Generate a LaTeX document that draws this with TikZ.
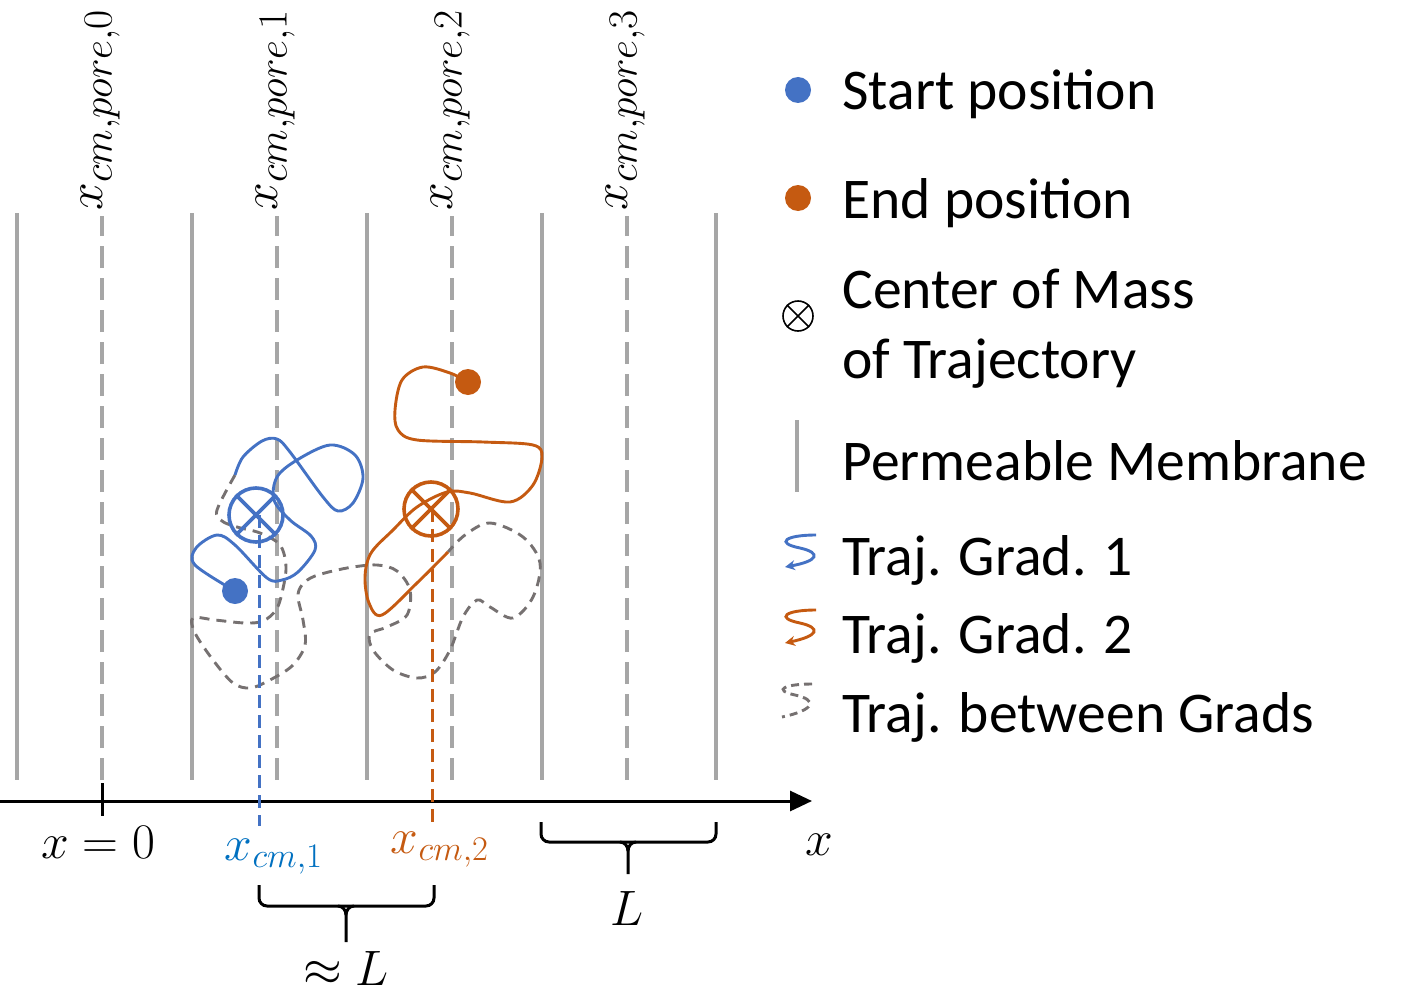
\documentclass[tikz,border=0pt]{standalone}
\usepackage[no-math]{fontspec}
\setmainfont{Carlito}
\usetikzlibrary{arrows.meta}
\definecolor{tblue}{HTML}{4472C4}
\definecolor{torange}{HTML}{C55A11}
\definecolor{lblue}{HTML}{0070C0}
\definecolor{memgray}{HTML}{A6A6A6}
\definecolor{trgray}{HTML}{767171}
\tikzset{
  membrane/.style={memgray, line width=2.2pt},
  poreline/.style={memgray, line width=1.8pt, dash pattern=on 11pt off 5pt},
  btraj/.style={tblue, line width=1.45pt},
  otraj/.style={torange, line width=1.45pt},
  gtraj/.style={trgray, line width=1.45pt, dash pattern=on 5pt off 3.5pt},
  legtext/.style={anchor=base west, inner sep=0pt, font=\fontsize{28.8}{34}\selectfont},
  mathlab/.style={anchor=base, inner sep=0pt, font=\fontsize{26}{30}\selectfont},
  toplab/.style={rotate=90, anchor=base west, inner sep=0pt, font=\fontsize{31}{34}\selectfont},
  brk/.style={black, line width=1.5pt},
}
\begin{document}
\begin{tikzpicture}[x=0.5pt, y=-0.5pt]
\useasboundingbox (0,0) rectangle (1407,1006);

% membranes
\foreach \xx in {17,192,367,542,716}{
  \draw[membrane] (\xx,213) -- (\xx,780);
}
% pore centre lines
\foreach \xx/\i in {102/0,277/1,452/2,627/3}{
  \draw[poreline] (\xx,780) -- (\xx,216);
  \node[toplab] (pl\i) at (\xx,211) {$x_{cm,pore,\i}$};
}

% axis
\coordinate (axs) at (0,801);
\coordinate (axe) at (812,801);
\draw[line width=1.5pt, -{Triangle[length=11pt,width=10pt]}] (axs) -- (axe);
\draw[line width=1.5pt] (102,783) -- (102,816);

% trajectory between grads (dashed gray)
\draw[gtraj] plot[smooth, tension=0.55] coordinates {
 (235,475) (217,510) (222,521) (237,527) (260,533) (280,545) (286,567) (282,593)
 (276,610) (263,621) (245,623) (215,620) (193,618) (195,633) (213,660) (233,683)
 (250,688) (268,681) (292,666) (305,645) (303,620) (298,597) (302,585) (315,576)
 (347,568) (377,565) (397,571) (410,590) (407,615) (387,627) (370,634) (373,650)
 (393,670) (417,678) (435,672) (450,650) (463,617) (477,600) (490,607) (513,618)
 (533,597) (540,563) (523,537) (490,523) (465,535) (448,552)};

% blue trajectory
\draw[btraj] plot[smooth, tension=0.55] coordinates {
 (235,591) (195,565) (196,548) (217,535) (235,545) (267,578) (282,580) (298,572)
 (315,550) (311,536) (290,520) (274,500) (277,477) (297,460) (330,445) (355,455)
 (363,478) (353,503) (338,511) (323,497) (290,452) (277,439) (262,441) (243,457) (235,475)};

% orange trajectory
\draw[otraj] plot[smooth, tension=0.55] coordinates {
 (448,552) (417,583) (382,615) (369,603) (365,577) (371,553) (393,530) (417,507)
 (447,492) (470,493) (510,502) (533,485) (542,457) (533,445) (483,442) (417,440)
 (398,430) (395,410) (402,380) (423,367) (450,373) (468,382)};

% start/end dots
\fill[tblue] (235,591) circle[radius=6.5pt];
\fill[torange] (468,382) circle[radius=6.5pt];

% centres of mass
\node[circle, draw=tblue, line width=1.8pt, minimum size=27pt, inner sep=0pt] (cm1) at (256,515) {};
\draw[tblue, line width=1.8pt] (cm1.north west) -- (cm1.south east) (cm1.north east) -- (cm1.south west);
\node[circle, draw=torange, line width=1.8pt, minimum size=27pt, inner sep=0pt] (cm2) at (431,509) {};
\draw[torange, line width=1.8pt] (cm2.north west) -- (cm2.south east) (cm2.north east) -- (cm2.south west);
\coordinate (cm1b) at (259,826);
\coordinate (cm2b) at (432,822);
\draw[tblue, line width=1.5pt, dash pattern=on 6.5pt off 3.5pt] (259,515) -- (cm1b);
\draw[torange, line width=1.5pt, dash pattern=on 6.5pt off 3.5pt] (432,509) -- (cm2b);

% axis labels
\node[mathlab] (x0) at (98,858) {$x=0$};
\node[mathlab, text=lblue] (xc1) at (274,860) {$x_{cm,1}$};
\node[mathlab, text=torange] (xc2) at (440,853) {$x_{cm,2}$};
\node[mathlab] (xax) at (819,855) {$x$};

% brackets
\draw[brk, rounded corners=4pt] (259,885) -- (259,906) -- (434,906) -- (434,885);
\draw[brk] (338,906) to[out=0,in=90] (346,915) -- (346,942);
\draw[brk] (354,906) to[out=180,in=90] (346,915);
\node[mathlab] (approxL) at (346,985) {$\approx L$};

\draw[brk, rounded corners=4pt] (541,822) -- (541,842) -- (716,842) -- (716,822);
\draw[brk] (620,842) to[out=0,in=90] (628,851) -- (628,874);
\draw[brk] (636,842) to[out=180,in=90] (628,851);
\node[mathlab] (Llab) at (627,925) {$L$};

% legend
\fill[tblue] (798,90) circle[radius=6.5pt];
\node[legtext] (l1) at (842,110) {Start position};
\fill[torange] (798,198) circle[radius=6.5pt];
\node[legtext] (l2) at (842,218) {End position};
\node[circle, draw, line width=0.8pt, minimum size=15pt, inner sep=0pt] (lcm) at (798,316) {};
\draw[line width=0.8pt] (lcm.north west) -- (lcm.south east) (lcm.north east) -- (lcm.south west);
\node[legtext] (l3) at (842,308) {Center of Mass};
\node[legtext] (l3b) at (842,378) {of Trajectory};
\draw[membrane] (797,420) -- (797,492);
\node[legtext] (l4) at (842,480) {Permeable Membrane};
\draw[btraj, -{Stealth[length=5pt,width=5pt]}] (816,535) .. controls (785,535) and (775,543) .. (800,548) .. controls (822,553) and (818,561) .. (785,567);
\node[legtext] (l5) at (842,575) {Traj. Grad. 1};
\draw[otraj, -{Stealth[length=5pt,width=5pt]}] (816,610) .. controls (785,610) and (775,618) .. (800,623) .. controls (822,628) and (818,636) .. (785,643);
\node[legtext] (l6) at (842,653) {Traj. Grad. 2};
\draw[gtraj, dash pattern=on 4pt off 2.5pt] (812,684) .. controls (785,684) and (772,690) .. (795,695) .. controls (818,700) and (815,710) .. (782,717);
\node[legtext] (l7) at (842,732) {Traj. between Grads};
\end{tikzpicture}
\end{document}
